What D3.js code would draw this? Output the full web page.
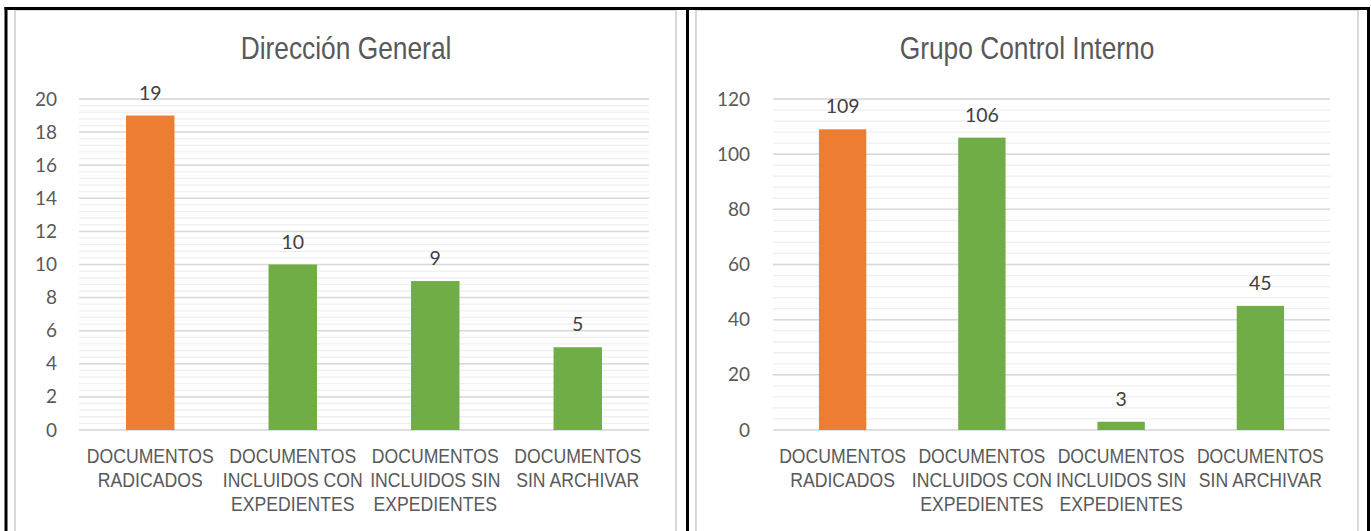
<!DOCTYPE html>
<html>
<head>
<meta charset="utf-8">
<script src="https://cdn.jsdelivr.net/npm/d3@7"></script>
<style>
body { margin: 0; background: #fff; }
</style>
</head>
<body>
<svg width="1371" height="531"></svg>
<script>
var categories = [
	["DOCUMENTOS", "RADICADOS"],
	["DOCUMENTOS", "INCLUIDOS CON", "EXPEDIENTES"],
	["DOCUMENTOS", "INCLUIDOS SIN", "EXPEDIENTES"],
	["DOCUMENTOS", "SIN ARCHIVAR"]
];
var direccionValues = [19, 10, 9, 5];
var grupoValues = [109, 106, 3, 45];
var direccionTicks = [0, 2, 4, 6, 8, 10, 12, 14, 16, 18, 20];
var grupoTicks = [0, 20, 40, 60, 80, 100, 120];
var barColors = ["#ED7D31", "#70AD47", "#70AD47", "#70AD47"];

var svg = d3.select("svg");
var textColor = "#595959";

svg.append("rect").attr("width", 1371).attr("height", 531).attr("fill", "#fff");

function drawChart(opt) {
	var g = svg.append("g");

	// chart frame
	g.append("rect")
		.attr("x", opt.frame[0]).attr("y", opt.frame[1])
		.attr("width", opt.frame[2]).attr("height", 560)
		.attr("fill", "none").attr("stroke", "#d9d9d9").attr("stroke-width", 2);

	var x = d3.scaleBand()
		.domain(d3.range(categories.length))
		.range([opt.left, opt.right])
		.paddingInner(0.66).paddingOuter(0.33);

	var y = d3.scaleLinear()
		.domain([0, opt.max])
		.range([430, 99]);

	// minor gridlines
	g.selectAll(".minor")
		.data(d3.range(0, opt.max + 1e-6, opt.minor))
		.enter().append("line")
		.attr("x1", opt.left).attr("x2", opt.right)
		.attr("y1", d => y(d)).attr("y2", d => y(d))
		.attr("stroke", "#efefef").attr("stroke-width", 1.3);

	// major gridlines
	g.selectAll(".major")
		.data(opt.ticks)
		.enter().append("line")
		.attr("x1", opt.left).attr("x2", opt.right)
		.attr("y1", d => y(d)).attr("y2", d => y(d))
		.attr("stroke", "#d9d9d9").attr("stroke-width", 1.5);

	// y axis labels
	var axis = d3.axisLeft(y).tickValues(opt.ticks).tickSize(0).tickPadding(opt.left - opt.labelRight);
	var ax = g.append("g").attr("transform", "translate(" + opt.left + ",0)").call(axis);
	ax.select(".domain").remove();
	ax.selectAll("text")
		.attr("font-family", "Lato, 'Open Sans', sans-serif")
		.attr("font-size", 19)
		.attr("fill", textColor);

	// bars
	g.selectAll(".bar")
		.data(opt.values)
		.enter().append("rect")
		.attr("x", (d, i) => x(i))
		.attr("width", x.bandwidth())
		.attr("y", d => y(d))
		.attr("height", d => y(0) - y(d))
		.attr("fill", (d, i) => barColors[i]);

	// data labels
	g.selectAll(".val")
		.data(opt.values)
		.enter().append("text")
		.attr("x", (d, i) => x(i) + x.bandwidth() / 2)
		.attr("y", d => y(d) - 16)
		.attr("text-anchor", "middle")
		.attr("font-family", "Lato, 'Open Sans', sans-serif")
		.attr("font-size", 19.5)
		.attr("fill", "#404040")
		.text(d => d);

	// category labels
	categories.forEach((lines, i) => {
		var cx = x(i) + x.bandwidth() / 2;
		var t = g.append("text")
			.attr("transform", "translate(" + cx + ",463) scale(0.84,1)")
			.attr("text-anchor", "middle")
			.attr("font-family", "'Liberation Sans', Arial, sans-serif")
			.attr("font-size", 21)
			.attr("fill", textColor);
		lines.forEach((ln, j) => {
			t.append("tspan").attr("x", 0).attr("y", j * 24).text(ln);
		});
	});

	// title
	g.append("text")
		.attr("transform", "translate(" + opt.titleX + ",59) scale(0.85,1)")
		.attr("text-anchor", "middle")
		.attr("font-family", "'Liberation Sans', Arial, sans-serif")
		.attr("font-size", 31)
		.attr("fill", textColor)
		.text(opt.title);
}

drawChart({
	title: "Dirección General", titleX: 346,
	values: direccionValues, ticks: direccionTicks, max: 20, minor: 0.4,
	left: 79, right: 649, labelRight: 57,
	frame: [15, 10, 661]
});

drawChart({
	title: "Grupo Control Interno", titleX: 1027,
	values: grupoValues, ticks: grupoTicks, max: 120, minor: 4,
	left: 773, right: 1330, labelRight: 750,
	frame: [696, 10, 662]
});

// table borders
var borders = svg.append("g").attr("stroke", "#000").attr("stroke-width", 3);
borders.append("line").attr("x1", 4.5).attr("x2", 1370).attr("y1", 8.5).attr("y2", 8.5);
[6, 687.5, 1368.5].forEach(bx => {
	borders.append("line").attr("x1", bx).attr("x2", bx).attr("y1", 7).attr("y2", 531);
});
</script>
</body>
</html>
